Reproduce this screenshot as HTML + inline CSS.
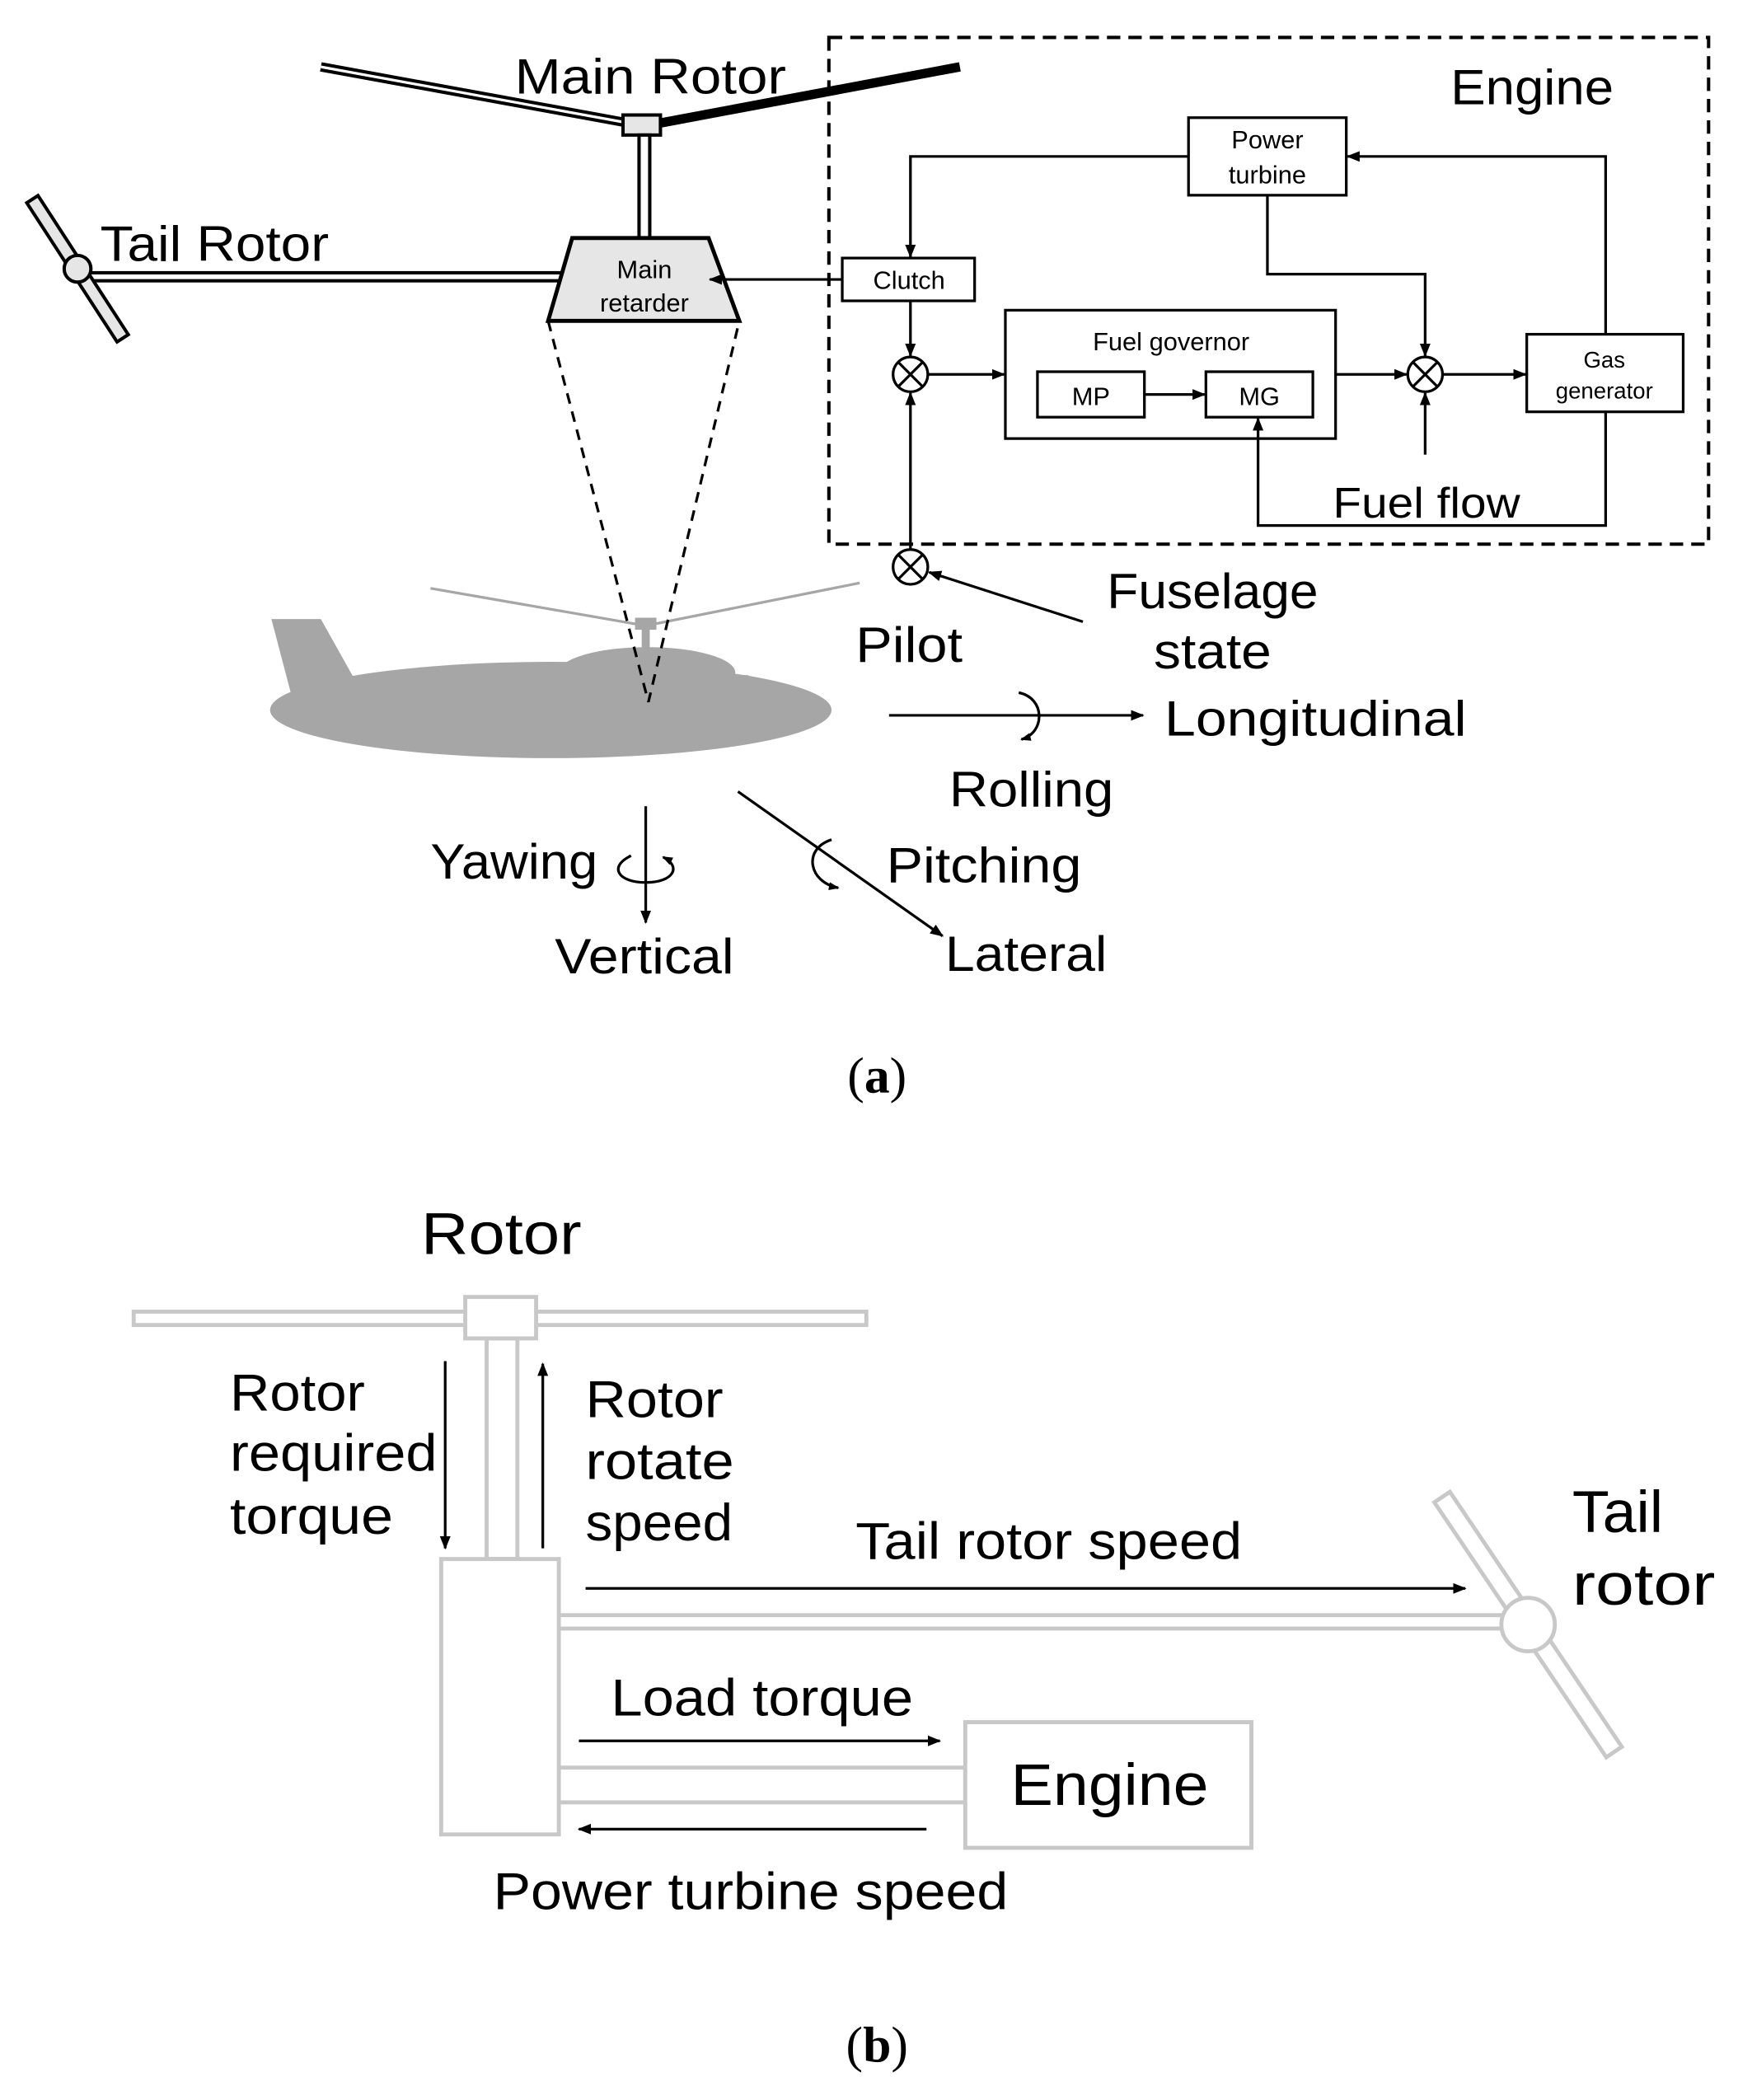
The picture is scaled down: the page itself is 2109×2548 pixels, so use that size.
<!DOCTYPE html>
<html><head><meta charset="utf-8"><style>html,body{margin:0;padding:0;background:#fff}svg{display:block}</style></head>
<body>
<svg width="2109" height="2548" viewBox="0 0 1300 1570.6" xmlns="http://www.w3.org/2000/svg" font-family="Liberation Sans, sans-serif">
<defs>
<marker id="ar" markerWidth="10" markerHeight="10" refX="9" refY="5" orient="auto" markerUnits="userSpaceOnUse"><path d="M0,1 L10,5 L0,9 z" fill="#000"/></marker>
<marker id="sm" markerWidth="8" markerHeight="8" refX="7" refY="4" orient="auto" markerUnits="userSpaceOnUse"><path d="M0,1 L8,4 L0,7 z" fill="#000"/></marker>
</defs>
<g fill="#a6a6a6">
<ellipse cx="412" cy="531" rx="210" ry="36"/>
<polygon points="203,463 240,463 268,513 230,522 218,520"/>
<polygon points="225,508 420,500 560,505 560,531 225,531"/>
<ellipse cx="484" cy="503" rx="66" ry="19"/>
<rect x="480" y="470" width="6" height="20"/>
<rect x="475" y="462" width="16" height="9"/>
</g>
<polyline points="322,440 483,468 643,436" fill="none" stroke="#a6a6a6" stroke-width="2"/>
<line x1="240" y1="50" x2="470" y2="92" stroke="#000" stroke-width="7"/>
<line x1="240" y1="50" x2="470" y2="92" stroke="#fff" stroke-width="2"/>
<line x1="494" y1="92" x2="718" y2="50" stroke="#000" stroke-width="7"/>
<rect x="466" y="86" width="28" height="15" fill="#e6e6e6" stroke="#000" stroke-width="2.5"/>
<rect x="478" y="101" width="8" height="77" fill="#fff" stroke="#000" stroke-width="2.5"/>
<rect x="62" y="204" width="360" height="6" fill="#fff" stroke="#000" stroke-width="2.5"/>
<g transform="translate(58,201) rotate(-33)">
<rect x="-5" y="-62" width="10" height="124" fill="#e6e6e6" stroke="#000" stroke-width="2.5"/>
</g>
<circle cx="58" cy="201" r="10" fill="#e6e6e6" stroke="#000" stroke-width="2.5"/>
<polygon points="428,178 530,178 553,240 410,240" fill="#e6e6e6" stroke="#000" stroke-width="3"/>
<text x="482" y="208" font-size="19" text-anchor="middle">Main</text>
<text x="482" y="233" font-size="19" text-anchor="middle">retarder</text>
<text x="385" y="70" font-size="37" textLength="203" lengthAdjust="spacingAndGlyphs">Main Rotor</text>
<text x="75" y="195" font-size="37" textLength="171" lengthAdjust="spacingAndGlyphs">Tail Rotor</text>
<polyline points="410,240 485,525 553,240" fill="none" stroke="#000" stroke-width="2" stroke-dasharray="8,6"/>
<rect x="620" y="28" width="658" height="379" fill="none" stroke="#000" stroke-width="2.5" stroke-dasharray="10,6"/>
<text x="1085" y="78" font-size="37" textLength="122" lengthAdjust="spacingAndGlyphs">Engine</text>
<g fill="#fff" stroke="#000" stroke-width="2">
<rect x="889" y="88" width="118" height="58"/>
<rect x="630" y="193" width="99" height="32"/>
<rect x="752" y="232" width="247" height="96"/>
<rect x="776" y="278" width="80" height="34"/>
<rect x="902" y="278" width="80" height="34"/>
<rect x="1142" y="250" width="117" height="58"/>
</g>
<g font-size="19" text-anchor="middle">
<text x="948" y="111">Power</text><text x="948" y="137">turbine</text>
<text x="680" y="216">Clutch</text>
<text x="876" y="262">Fuel governor</text>
<text x="816" y="303">MP</text><text x="942" y="303">MG</text>
<text x="1200" y="275" font-size="17">Gas</text><text x="1200" y="298" font-size="17">generator</text>
</g>
<g fill="none" stroke="#000" stroke-width="2">
<line x1="630" y1="209" x2="531" y2="209" marker-end="url(#ar)"/>
<polyline points="889,117 681,117 681,192" marker-end="url(#ar)"/>
<line x1="681" y1="225" x2="681" y2="266" marker-end="url(#ar)"/>
<line x1="694" y1="280" x2="751" y2="280" marker-end="url(#ar)"/>
<line x1="856" y1="295" x2="901" y2="295" marker-end="url(#ar)"/>
<line x1="999" y1="280" x2="1052" y2="280" marker-end="url(#ar)"/>
<line x1="1079" y1="280" x2="1141" y2="280" marker-end="url(#ar)"/>
<polyline points="948,146 948,205 1066,205 1066,266" marker-end="url(#ar)"/>
<polyline points="1201,250 1201,117 1008,117" marker-end="url(#ar)"/>
<polyline points="1201,308 1201,393 941,393 941,313" marker-end="url(#ar)"/>
<line x1="1066" y1="340" x2="1066" y2="294" marker-end="url(#ar)"/>
<line x1="681" y1="411" x2="681" y2="294" marker-end="url(#ar)"/>
<line x1="810" y1="465" x2="695" y2="428" marker-end="url(#ar)"/>
<circle cx="681" cy="280" r="13"/>
<line x1="672" y1="271" x2="690" y2="289"/><line x1="690" y1="271" x2="672" y2="289"/>
<circle cx="1066" cy="280" r="13"/>
<line x1="1057" y1="271" x2="1075" y2="289"/><line x1="1075" y1="271" x2="1057" y2="289"/>
<circle cx="681" cy="424" r="13"/>
<line x1="672" y1="415" x2="690" y2="433"/><line x1="690" y1="415" x2="672" y2="433"/>
<line x1="665" y1="535" x2="855" y2="535" marker-end="url(#ar)"/>
<path d="M762,518 C782,522 782,548 764,553" marker-end="url(#sm)"/>
<line x1="483" y1="603" x2="483" y2="690" marker-end="url(#ar)"/>
<path d="M472,640 C455,648 462,660 483,660 C504,660 510,648 496,641" marker-end="url(#sm)"/>
<line x1="552" y1="592" x2="705" y2="700" marker-end="url(#ar)"/>
<path d="M622,628 C600,635 605,660 627,664" marker-end="url(#sm)"/>
</g>
<text x="997" y="387" font-size="32" textLength="140" lengthAdjust="spacingAndGlyphs">Fuel flow</text>
<text x="640" y="495" font-size="37" textLength="80" lengthAdjust="spacingAndGlyphs">Pilot</text>
<text x="828" y="455" font-size="37" textLength="158" lengthAdjust="spacingAndGlyphs">Fuselage</text>
<text x="863" y="500" font-size="37" textLength="88" lengthAdjust="spacingAndGlyphs">state</text>
<text x="871" y="550" font-size="37" textLength="226" lengthAdjust="spacingAndGlyphs">Longitudinal</text>
<text x="710" y="603" font-size="37" textLength="123" lengthAdjust="spacingAndGlyphs">Rolling</text>
<text x="322" y="657" font-size="37" textLength="125" lengthAdjust="spacingAndGlyphs">Yawing</text>
<text x="663" y="660" font-size="37" textLength="146" lengthAdjust="spacingAndGlyphs">Pitching</text>
<text x="415" y="728" font-size="37" textLength="134" lengthAdjust="spacingAndGlyphs">Vertical</text>
<text x="707" y="726" font-size="37" textLength="121" lengthAdjust="spacingAndGlyphs">Lateral</text>
<text x="656" y="817" font-size="38" text-anchor="middle" font-family="Liberation Serif, serif">(<tspan font-weight="bold">a</tspan>)</text>
<g fill="#fff" stroke="#c8c8c8" stroke-width="3">
<rect x="100" y="981" width="548" height="10"/>
<rect x="364" y="1001" width="23" height="165"/>
<rect x="348" y="970" width="53" height="31"/>
<rect x="418" y="1208" width="710" height="10"/>
<rect x="418" y="1322" width="304" height="26"/>
<rect x="330" y="1166" width="88" height="206"/>
<rect x="722" y="1288" width="214" height="94"/>
<g transform="translate(1143,1215) rotate(-34)">
<rect x="-7" y="-115" width="14" height="230"/>
</g>
<circle cx="1143" cy="1215" r="20"/>
</g>
<g fill="none" stroke="#000" stroke-width="2">
<line x1="333" y1="1018" x2="333" y2="1158" marker-end="url(#ar)"/>
<line x1="406" y1="1158" x2="406" y2="1020" marker-end="url(#ar)"/>
<line x1="438" y1="1188" x2="1096" y2="1188" marker-end="url(#ar)"/>
<line x1="433" y1="1302" x2="703" y2="1302" marker-end="url(#ar)"/>
<line x1="693" y1="1368" x2="433" y2="1368" marker-end="url(#ar)"/>
</g>
<g font-size="39">
<text x="315" y="938" font-size="44" textLength="120" lengthAdjust="spacingAndGlyphs">Rotor</text>
<text x="172" y="1055" textLength="101" lengthAdjust="spacingAndGlyphs">Rotor</text>
<text x="172" y="1100" textLength="155" lengthAdjust="spacingAndGlyphs">required</text>
<text x="172" y="1147" textLength="122" lengthAdjust="spacingAndGlyphs">torque</text>
<text x="438" y="1060" textLength="103" lengthAdjust="spacingAndGlyphs">Rotor</text>
<text x="438" y="1106" textLength="111" lengthAdjust="spacingAndGlyphs">rotate</text>
<text x="438" y="1152" textLength="110" lengthAdjust="spacingAndGlyphs">speed</text>
<text x="640" y="1166" textLength="289" lengthAdjust="spacingAndGlyphs">Tail rotor speed</text>
<text x="1176" y="1146" font-size="44" textLength="68" lengthAdjust="spacingAndGlyphs">Tail</text>
<text x="1176" y="1200" font-size="44" textLength="107" lengthAdjust="spacingAndGlyphs">rotor</text>
<text x="457" y="1283" textLength="226" lengthAdjust="spacingAndGlyphs">Load torque</text>
<text x="756" y="1350" font-size="44" textLength="148" lengthAdjust="spacingAndGlyphs">Engine</text>
<text x="369" y="1428" textLength="385" lengthAdjust="spacingAndGlyphs">Power turbine speed</text>
</g>
<text x="656" y="1542" font-size="38" text-anchor="middle" font-family="Liberation Serif, serif">(<tspan font-weight="bold">b</tspan>)</text>
</svg>
</body></html>
